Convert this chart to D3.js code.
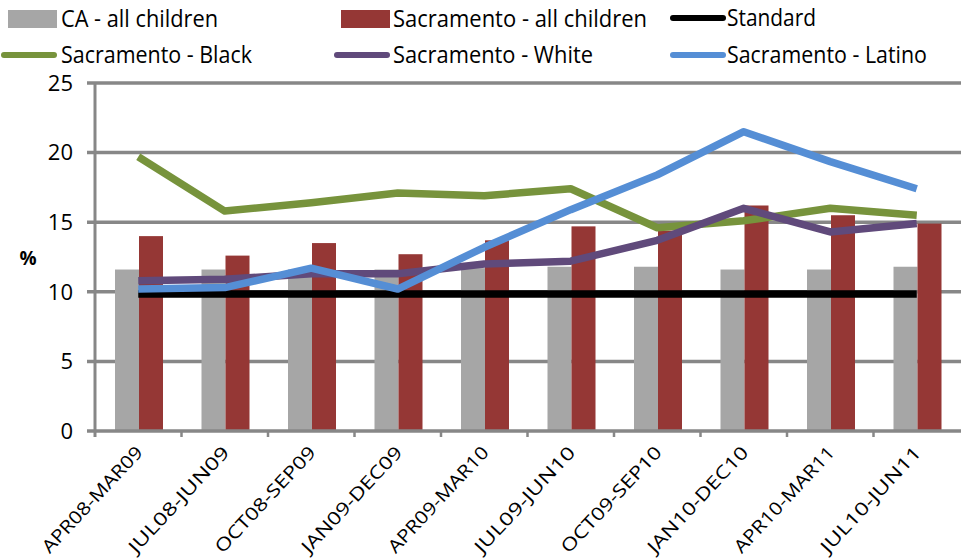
<!DOCTYPE html>
<html>
<head>
<meta charset="utf-8">
<script src="https://cdn.jsdelivr.net/npm/d3@7"></script>
<style>
  body { margin: 0; background: #fff; }
  text { font-family: "Open Sans", "DejaVu Sans", sans-serif; }
</style>
</head>
<body>
<svg id="chart" width="961" height="560"></svg>
<script>
// Data
const periods = ["APR08-MAR09", "JUL08-JUN09", "OCT08-SEP09", "JAN09-DEC09", "APR09-MAR10",
  "JUL09-JUN10", "OCT09-SEP10", "JAN10-DEC10", "APR10-MAR11", "JUL10-JUN11"];
const caAll = [11.6, 11.6, 11.6, 11.6, 11.7, 11.8, 11.8, 11.6, 11.6, 11.8];
const sacAll = [14.0, 12.6, 13.5, 12.7, 13.7, 14.7, 14.4, 16.2, 15.5, 14.9];
const standard = [9.85, 9.85, 9.85, 9.85, 9.85, 9.85, 9.85, 9.85, 9.85, 9.85];
const sacBlack = [19.7, 15.8, 16.4, 17.1, 16.9, 17.4, 14.6, 15.1, 16.0, 15.5];
const sacWhite = [10.8, 10.9, 11.3, 11.3, 12.0, 12.2, 13.7, 16.0, 14.3, 14.9];
const sacLatino = [10.2, 10.3, 11.7, 10.2, 13.2, 15.9, 18.4, 21.5, 19.35, 17.4];
const yTicks = [0, 5, 10, 15, 20, 25];

const barSeries = [
  { name: "CA - all children", values: caAll, color: "#a6a6a6" },
  { name: "Sacramento - all children", values: sacAll, color: "#953735" }
];
const lineSeries = [
  { name: "Standard", values: standard, color: "#000000" },
  { name: "Sacramento - Black", values: sacBlack, color: "#77933c" },
  { name: "Sacramento - White", values: sacWhite, color: "#604a7b" },
  { name: "Sacramento - Latino", values: sacLatino, color: "#558ed5" }
];

const svg = d3.select("#chart");
const plotLeft = 95, plotRight = 961, plotTop = 83, plotBottom = 431;

const x = d3.scaleBand().domain(periods).range([plotLeft, plotRight - 1]);
const xInner = d3.scaleBand().domain(barSeries.map(d => d.name)).range([20, 68]);
const y = d3.scaleLinear().domain([0, 25]).range([plotBottom, plotTop]);

// gridlines
svg.append("g")
  .selectAll("line")
  .data(yTicks.filter(d => d > 0))
  .join("line")
  .attr("x1", plotLeft - 8).attr("x2", plotRight)
  .attr("y1", d => y(d)).attr("y2", d => y(d))
  .attr("stroke", "#878787").attr("stroke-width", 3.5);

// bars
barSeries.forEach(s => {
  svg.append("g")
    .selectAll("rect")
    .data(periods)
    .join("rect")
    .attr("x", (d) => x(d) + xInner(s.name))
    .attr("width", xInner.bandwidth())
    .attr("y", (d, i) => y(s.values[i]))
    .attr("height", (d, i) => plotBottom - y(s.values[i]))
    .attr("fill", s.color);
});

// axes
svg.append("line")
  .attr("x1", plotLeft).attr("x2", plotLeft).attr("y1", plotTop).attr("y2", plotBottom + 6)
  .attr("stroke", "#878787").attr("stroke-width", 3);
svg.append("line")
  .attr("x1", plotLeft - 8).attr("x2", plotRight).attr("y1", plotBottom).attr("y2", plotBottom)
  .attr("stroke", "#878787").attr("stroke-width", 3.5);
svg.append("g")
  .selectAll("line")
  .data(periods.slice(1))
  .join("line")
  .attr("x1", d => x(d)).attr("x2", d => x(d))
  .attr("y1", plotBottom).attr("y2", plotBottom + 6)
  .attr("stroke", "#878787").attr("stroke-width", 2.5);

// y tick labels
svg.append("g")
  .selectAll("text")
  .data(yTicks)
  .join("text")
  .attr("x", 73).attr("y", d => y(d))
  .attr("dy", "0.35em")
  .attr("text-anchor", "end")
  .attr("font-size", 22)
  .text(d => d);

svg.append("text")
  .attr("x", 28).attr("y", 258).attr("dy", "0.35em")
  .attr("text-anchor", "middle")
  .attr("font-size", 19).attr("font-weight", "bold")
  .text("%");

// x tick labels
svg.append("g")
  .selectAll("text")
  .data(periods)
  .join("text")
  .attr("transform", d => `translate(${x(d) + x.bandwidth() / 2 + 1},${plotBottom + 18}) rotate(-47)`)
  .attr("text-anchor", "end")
  .attr("dy", "0.35em")
  .attr("font-size", 18)
  .attr("textLength", 138)
  .attr("lengthAdjust", "spacingAndGlyphs")
  .text(d => d);

// lines
const line = d3.line()
  .x((d, i) => x(periods[i]) + x.bandwidth() / 2)
  .y(d => y(d));

lineSeries.forEach(s => {
  svg.append("path")
    .datum(s.values)
    .attr("d", line)
    .attr("fill", "none")
    .attr("stroke", s.color)
    .attr("stroke-width", 7.5)
    .attr("stroke-linejoin", "round");
});

// legend
const legendItems = [
  { s: barSeries[0], type: "rect", x: 8, tx: 61, y: 19, w: 157 },
  { s: barSeries[1], type: "rect", x: 341, tx: 393, y: 19, w: 254 },
  { s: lineSeries[0], type: "line", x: 673, tx: 727, y: 18, w: 89 },
  { s: lineSeries[1], type: "line", x: 4, tx: 61, y: 55, w: 191 },
  { s: lineSeries[2], type: "line", x: 337, tx: 393, y: 55, w: 200 },
  { s: lineSeries[3], type: "line", x: 673, tx: 727, y: 55, w: 200 }
];
const lg = svg.append("g");
legendItems.forEach(d => {
  if (d.type === "rect") {
    lg.append("rect")
      .attr("x", d.x).attr("y", d.y - 9).attr("width", 49).attr("height", 18)
      .attr("fill", d.s.color);
  } else {
    lg.append("line")
      .attr("x1", d.x).attr("x2", d.x + 50).attr("y1", d.y).attr("y2", d.y)
      .attr("stroke", d.s.color).attr("stroke-width", 6)
      .attr("stroke-linecap", "round");
  }
  lg.append("text")
    .attr("x", d.tx).attr("y", d.y).attr("dy", "0.35em")
    .attr("font-size", 23)
    .attr("textLength", d.w)
    .attr("lengthAdjust", "spacingAndGlyphs")
    .text(d.s.name);
});
</script>
</body>
</html>
